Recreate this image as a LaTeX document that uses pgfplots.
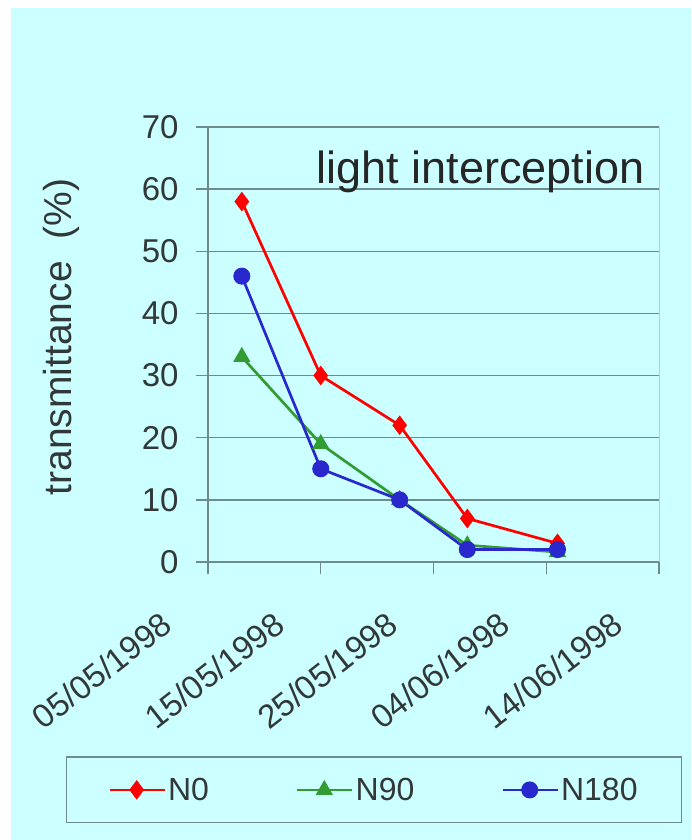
\documentclass[border=0pt]{standalone}
\usepackage{pgfplots}
\pgfplotsset{compat=1.18}
\usepackage{fontspec}
\setmainfont{Liberation Sans}
\definecolor{bg}{RGB}{204,255,255}
\definecolor{gridc}{RGB}{110,140,140}
\definecolor{txtc}{RGB}{50,55,55}
\definecolor{cN0}{RGB}{255,0,0}
\definecolor{cN90}{RGB}{50,155,50}
\definecolor{cN180}{RGB}{40,40,205}
\begin{document}
\begin{tikzpicture}[x=1pt,y=1pt]
\fill[white] (0,0) rectangle (691,840);
\fill[bg] (11,0) rectangle (691,832);
\begin{axis}[
  at={(208pt,278pt)}, anchor=south west, scale only axis,
  width=451pt, height=435pt,
  xmin=0, xmax=40, ymin=0, ymax=70,
  axis x line=bottom, axis y line=left,
  axis line style={-, draw=gridc, line width=1.3pt},
  xtick={0,10,20,30,40},
  xticklabels={05/05/1998,15/05/1998,25/05/1998,04/06/1998,14/06/1998},
  ytick={0,10,...,70},
  tick align=outside, major tick length=12pt,
  tick style={draw=gridc, line width=1.3pt},
  ymajorgrids, major grid style={draw=gridc, line width=1.3pt},
  /pgf/number format/assume math mode=true,
  ticklabel style={font=\fontsize{33}{38}\selectfont, text=txtc},
  yticklabel style={anchor=east, xshift=-14pt},
  xticklabel style={xshift=-48pt, yshift=-31pt, rotate=38, anchor=north east},
  ylabel={transmittance\ \ (\%)},
  ylabel style={at={(axis description cs:-0.324,0.517)}, anchor=center, rotate=0,
    font=\fontsize{39}{44}\selectfont, text=txtc},
  legend columns=3,
  legend style={at={(axis description cs:0.368,-0.524)}, anchor=center,
    draw=gridc, line width=1.2pt, fill=bg, text=txtc,
    font=\fontsize{32}{36}\selectfont, inner xsep=42pt, inner ysep=19pt,
    /tikz/every even column/.append style={column sep=85pt}},
  legend image code/.code={\draw[mark repeat=2,mark phase=2,#1] plot coordinates {(0pt,0pt) (27pt,0pt) (55pt,0pt)};},
  clip=false,
]
\addplot[cN0, line width=2.7pt, mark=diamond*, mark size=9pt, mark options={solid, fill=cN0, line width=1pt}]
  coordinates {(3,58) (10,30) (17,22) (23,7) (31,3)};
\addlegendentry{N0}
\addplot[cN90, line width=2.7pt, mark=triangle*, mark size=9pt, mark options={solid, fill=cN90, line width=1pt}]
  coordinates {(3,33) (10,19) (17,10) (23,2.7) (31,1.6)};
\addlegendentry{N90}
\addplot[cN180, line width=2.7pt, mark=*, mark size=8pt, mark options={solid, fill=cN180, line width=1pt}]
  coordinates {(3,46) (10,15) (17,10) (23,2) (31,2)};
\addlegendentry{N180}
\draw[gridc!45, line width=1pt] (axis cs:40,0) -- (axis cs:40,70);
\node[font=\fontsize{45}{50}\selectfont, text=black!85, anchor=base] at (axis description cs:0.604,0.871) {light interception};
\end{axis}
\end{tikzpicture}
\end{document}
